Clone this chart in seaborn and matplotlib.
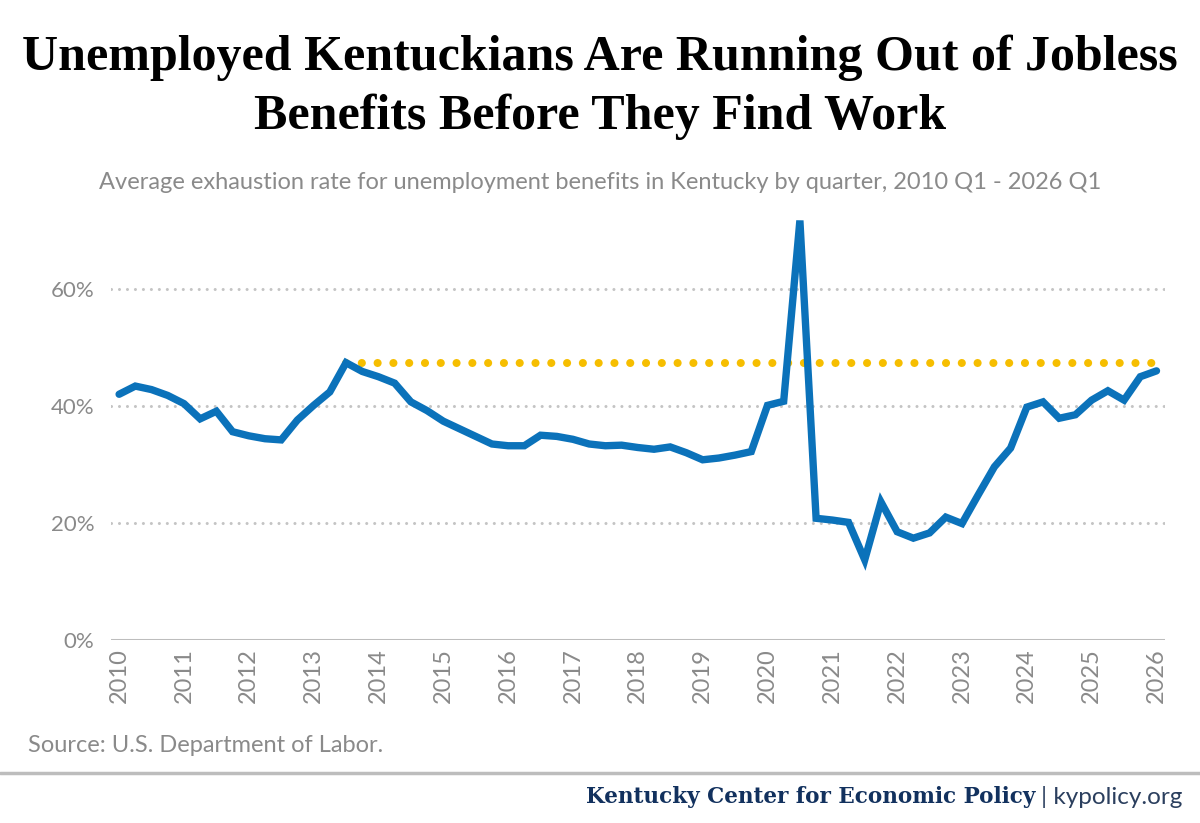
import numpy as np
import pandas as pd
import seaborn as sns
import matplotlib.pyplot as plt

# Average exhaustion rate (%) by quarter, 2010 Q1 - 2026 Q1
quarters = [f"{y} Q{q}" for y in range(2010, 2027) for q in range(1, 5)][:65]
exhaustion_rate = [
    42.0, 43.4, 42.8, 41.8, 40.4, 37.8, 39.1, 35.6,
    34.9, 34.4, 34.2, 37.6, 40.1, 42.4, 47.4, 45.9,
    45.0, 43.9, 40.7, 39.2, 37.4, 36.1, 34.8, 33.5,
    33.2, 33.2, 35.0, 34.8, 34.3, 33.5, 33.2, 33.3,
    32.9, 32.6, 33.0, 32.0, 30.8, 31.1, 31.6, 32.2,
    40.1, 40.8, 71.7, 20.8, 20.5, 20.1, 13.7, 23.6,
    18.5, 17.4, 18.3, 21.0, 19.9, 24.8, 29.6, 32.8,
    39.8, 40.7, 37.9, 38.5, 41.0, 42.6, 41.0, 45.0,
    46.0,
]
year_labels = [str(y) for y in range(2010, 2027)]
y_ticks = [0, 20, 40, 60]
ref_quarter = "2013 Q3"  # pre-pandemic high used as reference line

df = pd.DataFrame({"quarter": quarters, "rate": exhaustion_rate})
df["idx"] = np.arange(len(df))

GRAY = "#8a8a8a"
BLUE = "#0B72BA"
GOLD = "#F6BE00"
NAVY = "#12315E"

sns.set_style("white")
plt.rcParams["font.family"] = ["Lato", "DejaVu Sans"]

fig = plt.figure(figsize=(12, 8.23), dpi=100)
ax = fig.add_axes([0.0925, 0.2224, 0.878, 0.5331])

# gridlines (round dots)
for t in y_ticks[1:]:
    ax.axhline(t, color="#c4c4c4", lw=2.2, linestyle=(0, (0.01, 2.6)),
               dash_capstyle="round", zorder=0)
ax.axhline(0, color="#bdbdbd", lw=2.2, zorder=1)

# reference line from 2013 Q3 high to the end
ref = df[df["quarter"] == ref_quarter].iloc[0]
ref_df = df[df["idx"] >= ref["idx"]].assign(level=ref["rate"])
ax.plot(ref_df["idx"], ref_df["level"], color=GOLD, lw=5.8,
        linestyle=(0, (0.01, 1.95)), dash_capstyle="round", zorder=2)

sns.lineplot(data=df, x="idx", y="rate", ax=ax, color=BLUE, lw=5.3,
             solid_joinstyle="miter", zorder=3)

ax.set_xlim(-0.5, len(df) - 0.5)
ax.set_ylim(0, 75)
ax.set_xticks(df["idx"][::4])
ax.set_xticklabels(year_labels, rotation=90)
ax.set_yticks(y_ticks)
ax.set_yticklabels([f"{t}%" for t in y_ticks])
ax.tick_params(axis="both", length=0, labelcolor=GRAY)
ax.tick_params(axis="x", pad=6, labelsize=17)
ax.tick_params(axis="y", pad=12, labelsize=16)
ax.set_xlabel("")
ax.set_ylabel("")
sns.despine(ax=ax, left=True, bottom=True)

# titles
title_font = dict(ha="center", va="baseline", fontsize=36, fontweight="bold",
                  family="Liberation Serif", color="black")
fig.text(0.5, 0.915, "Unemployed Kentuckians Are Running Out of Jobless", **title_font)
fig.text(0.5, 0.843, "Benefits Before They Find Work", **title_font)
fig.text(0.5, 0.778,
         "Average exhaustion rate for unemployment benefits in Kentucky by quarter, 2010 Q1 - 2026 Q1",
         ha="center", va="center", fontsize=17, color=GRAY)

fig.text(0.023, 0.094, "Source: U.S. Department of Labor.", ha="left", va="center",
         fontsize=17, color=GRAY)
fig.add_artist(plt.Line2D([0, 1], [0.061, 0.061], color="#bdbdbd", lw=2.5))

brand = fig.text(0.985, 0.031, "| kypolicy.org", ha="right", va="center",
                 fontsize=17.5, color="#2b3f5e")
fig.canvas.draw()
bb = brand.get_window_extent()
fig.text(bb.x0 / fig.bbox.width - 0.004, 0.032, "Kentucky Center for Economic Policy",
         ha="right", va="center", fontsize=15.5, color=NAVY, fontweight="bold",
         family="DejaVu Serif")

fig.savefig("out.png", dpi=100, facecolor="white")
